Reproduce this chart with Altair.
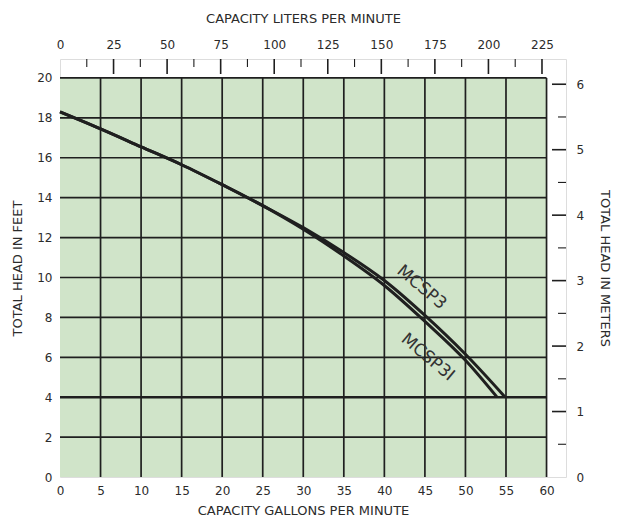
import altair as alt
import pandas as pd

# ---- data ----
gpm_ticks = [0, 5, 10, 15, 20, 25, 30, 35, 40, 45, 50, 55, 60]
feet_ticks = [0, 2, 4, 6, 8, 10, 12, 14, 16, 18, 20]
liter_major = [0, 25, 50, 75, 100, 125, 150, 175, 200, 225]
liter_minor = [12.5, 37.5, 62.5, 87.5, 112.5, 137.5, 162.5, 187.5, 212.5]
meter_major = [0, 1, 2, 3, 4, 5, 6]
meter_minor = [0.5, 1.5, 2.5, 3.5, 4.5, 5.5]

mcsp3_gpm = [0, 5, 10, 15, 20, 25, 30, 35, 40, 45, 50, 54.9]
mcsp3_ft = [18.3, 17.45, 16.55, 15.65, 14.65, 13.6, 12.5, 11.25, 9.85, 8.1, 6.15, 4.0]
mcsp3i_gpm = [0, 5, 10, 15, 20, 25, 30, 35, 40, 45, 50, 53.9]
mcsp3i_ft = [18.3, 17.45, 16.55, 15.65, 14.65, 13.6, 12.42, 11.08, 9.6, 7.8, 5.85, 4.0]

label_text = ["MCSP3", "MCSP3I"]
label_gpm = [44.6, 45.35]
label_ft = [9.5, 6.0]

GPM_MAX = 62.4
FT_MAX = 20.95
L_MAX = GPM_MAX * 3.78541
M_MAX = FT_MAX * 0.3048

W, H = 506, 418
INK = "#1f1f1f"
TXT = "#2b2b2b"
FONT = "DejaVu Sans"
TFS = 13

xs = alt.Scale(domain=[0, GPM_MAX], nice=False, zero=False)
ys = alt.Scale(domain=[0, FT_MAX], nice=False, zero=False)

bg = pd.DataFrame({"x": [0], "x2": [60], "y": [0], "y2": [20]})
vgrid = pd.DataFrame({"x": gpm_ticks[1:]})
hgrid = pd.DataFrame({"y": feet_ticks[1:]})
hgrid["w"] = [2.6 if v == 4 else 1.7 for v in hgrid["y"]]

curves = pd.concat([
    pd.DataFrame({"gpm": mcsp3_gpm, "ft": mcsp3_ft, "model": "MCSP3"}),
    pd.DataFrame({"gpm": mcsp3i_gpm, "ft": mcsp3i_ft, "model": "MCSP3I"}),
])
labels = pd.DataFrame({"t": label_text, "gpm": label_gpm, "ft": label_ft})

x_axis = alt.Axis(orient="bottom", values=gpm_ticks, ticks=False, domain=False, grid=False,
                  labelFlush=False, labelOverlap=False, labelPadding=8, labelFontSize=12,
                  labelFont=FONT, labelColor=TXT, title="CAPACITY GALLONS PER MINUTE",
                  titleFont=FONT, titleFontSize=TFS, titleFontWeight="normal", titleColor=TXT,
                  titlePadding=8, titleX=243)
y_axis = alt.Axis(orient="left", values=feet_ticks, ticks=False, domain=False, grid=False,
                  labelFlush=False, labelOverlap=False, labelPadding=8, labelFontSize=12,
                  labelFont=FONT, labelColor=TXT, title="TOTAL HEAD IN FEET",
                  titleFont=FONT, titleFontSize=TFS, titleFontWeight="normal", titleColor=TXT,
                  titlePadding=12)

rect = alt.Chart(bg).mark_rect(color="#d0e4c9").encode(
    x=alt.X("x:Q", scale=xs, axis=x_axis), x2="x2:Q",
    y=alt.Y("y:Q", scale=ys, axis=y_axis), y2="y2:Q")

vlines = alt.Chart(vgrid).mark_rule(color=INK, strokeWidth=1.7).encode(
    x=alt.X("x:Q", scale=xs), y=alt.datum(0), y2=alt.datum(20))

hlines = alt.Chart(hgrid).mark_rule(color=INK).encode(
    y=alt.Y("y:Q", scale=ys), x=alt.datum(0), x2=alt.datum(60),
    strokeWidth=alt.StrokeWidth("w:Q", scale=None, legend=None))

lines = alt.Chart(curves).mark_line(color=INK, strokeWidth=3, interpolate="monotone").encode(
    x=alt.X("gpm:Q", scale=xs), y=alt.Y("ft:Q", scale=ys), detail="model:N")

txt = alt.Chart(labels).mark_text(font=FONT, fontSize=17, color="#333333", angle=40,
                                  align="center", baseline="middle").encode(
    x=alt.X("gpm:Q", scale=xs), y=alt.Y("ft:Q", scale=ys), text="t:N")

main = alt.layer(rect, vlines, hlines, lines, txt)

# top axis: liters
ls = alt.Scale(domain=[0, L_MAX], nice=False, zero=False)
top_axis = alt.Axis(orient="top", values=liter_major, ticks=False, domain=False, grid=False,
                    labelFlush=False, labelOverlap=False, labelPadding=8, labelFontSize=12,
                    labelFont=FONT, labelColor=TXT, title="CAPACITY LITERS PER MINUTE",
                    titleFont=FONT, titleFontSize=TFS, titleFontWeight="normal", titleColor=TXT,
                    titlePadding=13, titleX=243)
top_major = alt.Chart(pd.DataFrame({"L": liter_major[1:]})).mark_rule(color=INK, strokeWidth=1.6).encode(
    x=alt.X("L:Q", scale=ls, axis=top_axis), y=alt.value(0), y2=alt.value(15))
top_minor = alt.Chart(pd.DataFrame({"L": liter_minor})).mark_rule(color=INK, strokeWidth=1.1).encode(
    x=alt.X("L:Q", scale=ls), y=alt.value(0), y2=alt.value(8))
top = alt.layer(top_major, top_minor)

# right axis: meters
ms = alt.Scale(domain=[0, M_MAX], nice=False, zero=False)
right_axis = alt.Axis(orient="right", values=meter_major, format="d", ticks=False, domain=False,
                      grid=False, labelFlush=False, labelOverlap=False, labelPadding=10,
                      labelFontSize=12, labelFont=FONT, labelColor=TXT,
                      title="TOTAL HEAD IN METERS", titleFont=FONT, titleFontSize=TFS,
                      titleFontWeight="normal", titleColor=TXT, titlePadding=14)
r_major = alt.Chart(pd.DataFrame({"m": meter_major[1:]})).mark_rule(color=INK, strokeWidth=1.6).encode(
    y=alt.Y("m:Q", scale=ms, axis=right_axis), x=alt.value(W), x2=alt.value(W - 14))
r_minor = alt.Chart(pd.DataFrame({"m": meter_minor})).mark_rule(color=INK, strokeWidth=1.1).encode(
    y=alt.Y("m:Q", scale=ms), x=alt.value(W), x2=alt.value(W - 8))
right = alt.layer(r_major, r_minor)

chart = alt.layer(main, top, right).resolve_scale(x="independent", y="independent").properties(
    width=W, height=H,
    autosize=alt.AutoSizeParams(type="none"),
    padding={"left": 52, "top": 51, "right": 47, "bottom": 40},
).configure_view(stroke=INK, strokeWidth=2).configure(background="white")

chart.save("out.html", embed_options={"renderer": "svg", "actions": False})
